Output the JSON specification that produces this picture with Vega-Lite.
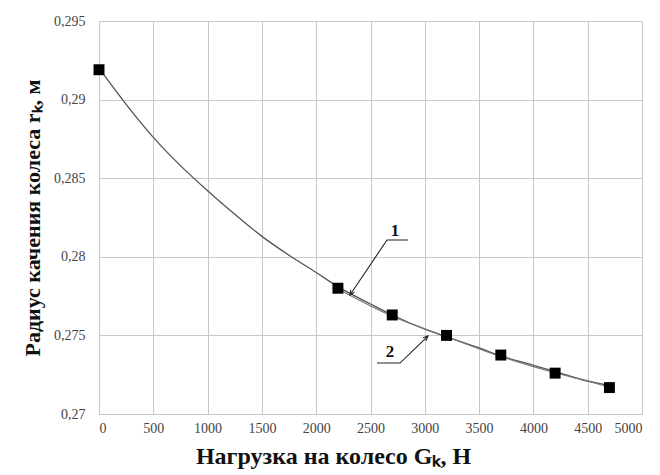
{
  "$schema": "https://vega.github.io/schema/vega-lite/v6.json",
  "autosize": "none",
  "width": 543,
  "height": 393,
  "padding": {"left": 99, "top": 21, "right": 18, "bottom": 61},
  "background": "white",
  "config": {
    "view": {"stroke": "#bdbdbd", "strokeWidth": 1},
    "font": "Liberation Serif"
  },
  "datasets": {
    "curve": [
      {"x": 0, "y": 0.292},
      {"x": 250, "y": 0.2897},
      {"x": 500, "y": 0.2876},
      {"x": 750, "y": 0.2858},
      {"x": 1000, "y": 0.2842},
      {"x": 1250, "y": 0.2827},
      {"x": 1500, "y": 0.2813},
      {"x": 1750, "y": 0.2801},
      {"x": 2000, "y": 0.2790},
      {"x": 2200, "y": 0.2781},
      {"x": 2500, "y": 0.2770},
      {"x": 2700, "y": 0.2763},
      {"x": 3000, "y": 0.2754},
      {"x": 3200, "y": 0.2749},
      {"x": 3500, "y": 0.2742},
      {"x": 3700, "y": 0.2737},
      {"x": 4000, "y": 0.2731},
      {"x": 4200, "y": 0.2727},
      {"x": 4500, "y": 0.2721},
      {"x": 4700, "y": 0.2718}
    ],
    "series2": [
      {"x": 2200, "y": 0.27795},
      {"x": 2700, "y": 0.27622},
      {"x": 3200, "y": 0.27492},
      {"x": 3700, "y": 0.27366},
      {"x": 4200, "y": 0.27262},
      {"x": 4700, "y": 0.27172}
    ],
    "pts": [
      {"x": 0, "y": 0.2919},
      {"x": 2200, "y": 0.2780},
      {"x": 2700, "y": 0.2763},
      {"x": 3200, "y": 0.2750},
      {"x": 3700, "y": 0.27375},
      {"x": 4200, "y": 0.2726},
      {"x": 4700, "y": 0.27168}
    ],
    "ann": [
      {"g": "a1", "o": 1, "x": 2845, "y": 0.28107},
      {"g": "a1", "o": 2, "x": 2652, "y": 0.28107},
      {"g": "a1", "o": 3, "x": 2311, "y": 0.27757},
      {"g": "a2", "o": 1, "x": 2560, "y": 0.27324},
      {"g": "a2", "o": 2, "x": 2772, "y": 0.27324},
      {"g": "a2", "o": 3, "x": 3029, "y": 0.27496}
    ],
    "heads": [
      {"x": 2311, "y": 0.27757, "ang": 214},
      {"x": 3029, "y": 0.27496, "ang": 46}
    ],
    "labels": [
      {"x": 2726, "y": 0.28164, "t": "1"},
      {"x": 2680, "y": 0.27394, "t": "2"}
    ]
  },
  "encoding": {
    "x": {
      "field": "x", "type": "quantitative",
      "scale": {"domain": [0, 5000], "nice": false, "zero": false},
      "axis": {
        "values": [0, 500, 1000, 1500, 2000, 2500, 3000, 3500, 4000, 4500, 5000],
        "format": "d",
        "title": "Нагрузка на колесо Gₖ, Н",
        "titleFont": "Liberation Serif", "titleFontSize": 24, "titleFontWeight": "bold", "titleColor": "#111",
        "titlePadding": 9,
        "titleX": 234,
        "labelFont": "Liberation Serif", "labelFontSize": 14, "labelColor": "#444", "labelPadding": 7,
        "grid": true, "gridColor": "#c8c8c8", "gridWidth": 1,
        "domain": false, "ticks": false
      }
    },
    "y": {
      "field": "y", "type": "quantitative",
      "scale": {"domain": [0.27, 0.295], "nice": false, "zero": false},
      "axis": {
        "values": [0.27, 0.275, 0.28, 0.285, 0.29, 0.295],
        "labelExpr": "replace(format(datum.value, '.3~f'), '.', ',')",
        "title": "Радиус качения колеса rₖ, м",
        "titleFont": "Liberation Serif", "titleFontSize": 22, "titleFontWeight": "bold", "titleColor": "#111",
        "titlePadding": 9,
        "labelFont": "Liberation Serif", "labelFontSize": 14, "labelColor": "#444", "labelPadding": 14,
        "grid": true, "gridColor": "#c8c8c8", "gridWidth": 1,
        "domain": false, "ticks": false
      }
    }
  },
  "layer": [
    {
      "data": {"name": "curve"},
      "mark": {"type": "line", "interpolate": "monotone", "color": "#555", "strokeWidth": 1.3}
    },
    {
      "data": {"name": "series2"},
      "mark": {"type": "line", "interpolate": "monotone", "color": "#777", "strokeWidth": 1.1}
    },
    {
      "data": {"name": "series2"},
      "mark": {"type": "point", "shape": "triangle-down", "filled": true, "color": "#888", "size": 40, "opacity": 1}
    },
    {
      "data": {"name": "pts"},
      "mark": {"type": "point", "shape": "square", "filled": true, "color": "#000", "size": 120, "opacity": 1, "clip": false}
    },
    {
      "data": {"name": "ann"},
      "mark": {"type": "line", "color": "#222", "strokeWidth": 1.1},
      "encoding": {
        "detail": {"field": "g"},
        "order": {"field": "o", "type": "quantitative"}
      }
    },
    {
      "data": {"name": "heads"},
      "mark": {"type": "point", "shape": "M -0.45 1 L 0 0 L 0.45 1", "filled": false, "stroke": "#222", "strokeWidth": 1.1, "size": 90, "opacity": 1},
      "encoding": {
        "angle": {"field": "ang", "type": "quantitative", "scale": null}
      }
    },
    {
      "data": {"name": "labels"},
      "mark": {"type": "text", "font": "Liberation Serif", "fontSize": 17, "fontWeight": "bold", "color": "#111"},
      "encoding": {"text": {"field": "t"}}
    }
  ]
}
